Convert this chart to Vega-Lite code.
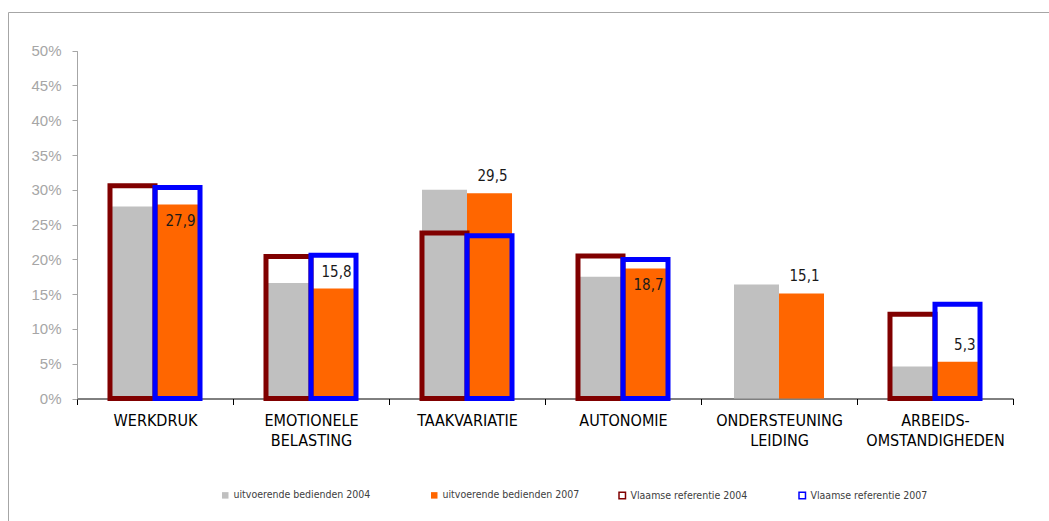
{
  "$schema": "https://vega.github.io/schema/vega-lite/v6.json",
  "width": 1100,
  "height": 520,
  "autosize": {"type": "none"},
  "padding": {"left": 8, "top": 12, "right": 0, "bottom": 0},
  "background": "white",
  "config": {
    "view": {"stroke": "#a6a6a6", "strokeWidth": 1},
    "locale": {"number": {"decimal": ",", "thousands": ".", "grouping": [3], "currency": ["€", ""]}},
    "legend": {
      "orient": "none",
      "direction": "horizontal",
      "title": null,
      "padding": 0,
      "labelFont": "Liberation Sans Narrow, DejaVu Sans Condensed, sans-serif",
      "labelFontSize": 10.5,
      "labelColor": "#404040",
      "labelOffset": 3,
      "symbolType": "square",
      "symbolSize": 42,
      "symbolStrokeWidth": 1.5
    }
  },
  "data": {
    "values": [
      {"cat": "WERKDRUK", "kind": "bar", "year": "2004", "series": "uitvoerende bedienden 2004", "value": 27.6},
      {"cat": "WERKDRUK", "kind": "bar", "year": "2007", "series": "uitvoerende bedienden 2007", "value": 27.9},
      {"cat": "WERKDRUK", "kind": "ref", "year": "2004", "series": "Vlaamse referentie 2004", "value": 30.6},
      {"cat": "WERKDRUK", "kind": "ref", "year": "2007", "series": "Vlaamse referentie 2007", "value": 30.35},
      {"cat": "EMOTIONELE BELASTING", "kind": "bar", "year": "2004", "series": "uitvoerende bedienden 2004", "value": 16.6},
      {"cat": "EMOTIONELE BELASTING", "kind": "bar", "year": "2007", "series": "uitvoerende bedienden 2007", "value": 15.8},
      {"cat": "EMOTIONELE BELASTING", "kind": "ref", "year": "2004", "series": "Vlaamse referentie 2004", "value": 20.4},
      {"cat": "EMOTIONELE BELASTING", "kind": "ref", "year": "2007", "series": "Vlaamse referentie 2007", "value": 20.6},
      {"cat": "TAAKVARIATIE", "kind": "bar", "year": "2004", "series": "uitvoerende bedienden 2004", "value": 30.0},
      {"cat": "TAAKVARIATIE", "kind": "bar", "year": "2007", "series": "uitvoerende bedienden 2007", "value": 29.5},
      {"cat": "TAAKVARIATIE", "kind": "ref", "year": "2004", "series": "Vlaamse referentie 2004", "value": 23.8},
      {"cat": "TAAKVARIATIE", "kind": "ref", "year": "2007", "series": "Vlaamse referentie 2007", "value": 23.4},
      {"cat": "AUTONOMIE", "kind": "bar", "year": "2004", "series": "uitvoerende bedienden 2004", "value": 17.5},
      {"cat": "AUTONOMIE", "kind": "bar", "year": "2007", "series": "uitvoerende bedienden 2007", "value": 18.7},
      {"cat": "AUTONOMIE", "kind": "ref", "year": "2004", "series": "Vlaamse referentie 2004", "value": 20.5},
      {"cat": "AUTONOMIE", "kind": "ref", "year": "2007", "series": "Vlaamse referentie 2007", "value": 20.0},
      {"cat": "ONDERSTEUNING LEIDING", "kind": "bar", "year": "2004", "series": "uitvoerende bedienden 2004", "value": 16.4},
      {"cat": "ONDERSTEUNING LEIDING", "kind": "bar", "year": "2007", "series": "uitvoerende bedienden 2007", "value": 15.1},
      {"cat": "ARBEIDS- OMSTANDIGHEDEN", "kind": "bar", "year": "2004", "series": "uitvoerende bedienden 2004", "value": 4.6},
      {"cat": "ARBEIDS- OMSTANDIGHEDEN", "kind": "bar", "year": "2007", "series": "uitvoerende bedienden 2007", "value": 5.3},
      {"cat": "ARBEIDS- OMSTANDIGHEDEN", "kind": "ref", "year": "2004", "series": "Vlaamse referentie 2004", "value": 12.1},
      {"cat": "ARBEIDS- OMSTANDIGHEDEN", "kind": "ref", "year": "2007", "series": "Vlaamse referentie 2007", "value": 13.55}
    ]
  },
  "encoding": {
    "x": {
      "field": "cat",
      "type": "nominal",
      "sort": ["WERKDRUK", "EMOTIONELE BELASTING", "TAAKVARIATIE", "AUTONOMIE", "ONDERSTEUNING LEIDING", "ARBEIDS- OMSTANDIGHEDEN"],
      "scale": {"range": [69, 1005], "paddingInner": 0, "paddingOuter": 0},
      "axis": {
        "title": null,
        "labelAngle": 0,
        "labelFont": "Liberation Sans Narrow, DejaVu Sans Condensed, sans-serif",
        "labelFontSize": 16,
        "labelColor": "#000000",
        "labelExpr": "split(datum.label, ' ')",
        "labelLineHeight": 20,
        "labelPadding": 8,
        "tickSize": 6,
        "tickBand": "extent",
        "tickColor": "#000000",
        "domainColor": "#000000",
        "offset": -133.5,
        "encode": {"ticks": {"update": {"y": {"value": -6}, "y2": {"value": 5}}}}
      }
    },
    "xOffset": {
      "field": "year",
      "type": "nominal",
      "scale": {"paddingInner": 0, "paddingOuter": 0.733}
    },
    "y": {
      "field": "value",
      "type": "quantitative",
      "scale": {"domain": [0, 50], "range": [386.5, 38.7], "nice": false, "zero": true},
      "axis": {
        "title": null,
        "values": [0, 5, 10, 15, 20, 25, 30, 35, 40, 45, 50],
        "labelExpr": "datum.value + '%'",
        "labelFont": "Liberation Sans, Arial, sans-serif",
        "labelFontSize": 15,
        "labelColor": "#a6a6a6",
        "domainColor": "#a6a6a6",
        "tickColor": "#a6a6a6",
        "tickSize": 5,
        "labelPadding": 11,
        "grid": false,
        "offset": -69,
        "encode": {"ticks": {"update": {"x": {"value": 5}, "x2": {"value": -5}}}}
      }
    }
  },
  "layer": [
    {
      "transform": [{"filter": "datum.kind == 'bar'"}],
      "mark": {"type": "bar"},
      "encoding": {
        "fill": {
          "field": "series",
          "type": "nominal",
          "scale": {
            "domain": ["uitvoerende bedienden 2004", "uitvoerende bedienden 2007"],
            "range": ["#C0C0C0", "#FF6600"]
          },
          "legend": {"legendX": 212, "legendY": 478, "columns": 2, "columnPadding": 58}
        }
      }
    },
    {
      "transform": [{"filter": "datum.kind == 'ref'"}],
      "mark": {"type": "bar", "filled": false, "strokeWidth": 5},
      "encoding": {
        "stroke": {
          "field": "series",
          "type": "nominal",
          "scale": {
            "domain": ["Vlaamse referentie 2004", "Vlaamse referentie 2007"],
            "range": ["#800000", "#0000FF"]
          },
          "legend": {"legendX": 609, "legendY": 478, "columns": 2, "columnPadding": 48, "symbolStrokeWidth": 1.5, "symbolFillColor": "#ffffff"}
        }
      }
    },
    {
      "transform": [{"filter": "datum.kind == 'bar' && datum.year == '2007' && datum.cat != 'WERKDRUK' && datum.cat != 'AUTONOMIE'"}],
      "mark": {"type": "text", "align": "right", "baseline": "middle", "dx": 18, "dy": -17, "font": "Liberation Sans Narrow, DejaVu Sans Condensed, sans-serif", "fontSize": 15, "color": "#1a1a1a"},
      "encoding": {
        "text": {"field": "value", "type": "quantitative", "format": ".1f"}
      }
    },
    {
      "transform": [{"filter": "datum.kind == 'bar' && datum.year == '2007' && (datum.cat == 'WERKDRUK' || datum.cat == 'AUTONOMIE')"}],
      "mark": {"type": "text", "align": "right", "baseline": "middle", "dx": 18, "dy": 17, "font": "Liberation Sans Narrow, DejaVu Sans Condensed, sans-serif", "fontSize": 15, "color": "#1a1a1a"},
      "encoding": {
        "text": {"field": "value", "type": "quantitative", "format": ".1f"}
      }
    }
  ]
}
